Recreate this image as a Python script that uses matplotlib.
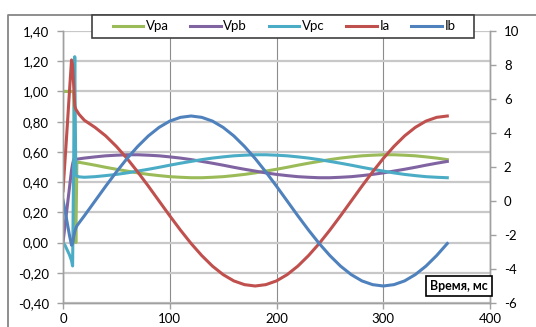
import matplotlib
matplotlib.use('Agg')
import matplotlib.pyplot as plt
from matplotlib.ticker import FuncFormatter, MultipleLocator
from matplotlib.patches import Rectangle
from matplotlib.lines import Line2D

plt.rcParams['font.family'] = ['Lato', 'Roboto', 'DejaVu Sans']

# ── Data ──────────────────────────────────────────────────────
t_ms = [0, 2, 4, 6, 8, 9, 10, 11, 12, 13, 15,
        20, 30, 40, 50, 60, 70, 80, 90, 100, 110, 120, 130, 140, 150,
        160, 170, 180, 190, 200, 210, 220, 230, 240, 250, 260, 270,
        280, 290, 300, 310, 320, 330, 340, 350, 360]

vpa = [1.00, 1.00, 1.00, 1.00, 1.00, 1.00, 1.00, 0.50, 0.00, 0.533, 0.531,
       0.525, 0.512, 0.498, 0.485, 0.473, 0.461, 0.451, 0.443, 0.436, 0.432,
       0.429, 0.429, 0.432, 0.436, 0.443, 0.451, 0.461, 0.473, 0.485, 0.498,
       0.512, 0.525, 0.537, 0.549, 0.559, 0.567, 0.574, 0.578, 0.581, 0.581,
       0.578, 0.574, 0.567, 0.559, 0.549]

vpb = [0.00, 0.12, 0.24, 0.36, 0.48, 0.52, 0.549, 0.550, 0.551, 0.552, 0.554,
       0.559, 0.567, 0.574, 0.578, 0.581, 0.581, 0.578, 0.574, 0.567, 0.559,
       0.549, 0.537, 0.525, 0.512, 0.498, 0.485, 0.473, 0.461, 0.451, 0.443,
       0.436, 0.432, 0.429, 0.429, 0.432, 0.436, 0.443, 0.451, 0.461, 0.473,
       0.485, 0.498, 0.512, 0.525, 0.537]

vpc = [0.00, -0.02, -0.05, -0.08, -0.12, -0.155, 0.54, 1.23, 0.45, 0.44, 0.435,
       0.432, 0.436, 0.443, 0.451, 0.461, 0.473, 0.485, 0.498, 0.512, 0.525,
       0.537, 0.549, 0.559, 0.567, 0.574, 0.578, 0.581, 0.581, 0.578, 0.574,
       0.567, 0.559, 0.549, 0.537, 0.525, 0.512, 0.498, 0.485, 0.473, 0.461,
       0.451, 0.443, 0.436, 0.432, 0.429]

ia = [0.60, 2.5, 4.4, 6.4, 8.3, 8.0, 6.8, 5.6, 5.4, 5.3, 5.1,
      4.75, 4.33, 3.83, 3.21, 2.50, 1.71, 0.87, 0.00, -0.87, -1.71,
      -2.50, -3.21, -3.83, -4.33, -4.70, -4.92, -5.00, -4.92, -4.70, -4.33,
      -3.83, -3.21, -2.50, -1.71, -0.87, 0.00, 0.87, 1.71, 2.50, 3.21,
      3.83, 4.33, 4.70, 4.92, 5.00]

ib = [0.05, -0.6, -1.3, -2.0, -2.6, -2.5, -2.1, -1.8, -1.6, -1.46, -1.29,
      -0.87, 0.00, 0.87, 1.71, 2.50, 3.21, 3.83, 4.33, 4.70, 4.92,
      5.00, 4.92, 4.70, 4.33, 3.83, 3.21, 2.50, 1.71, 0.87, 0.00,
      -0.87, -1.71, -2.50, -3.21, -3.83, -4.33, -4.70, -4.92, -5.00, -4.92,
      -4.70, -4.33, -3.83, -3.21, -2.50]

left_labels = ['Vpa', 'Vpb', 'Vpc']
right_labels = ['Ia', 'Ib']
colors = {'Vpa': '#9BBB59', 'Vpb': '#8064A2', 'Vpc': '#4BACC6',
          'Ia': '#C0504D', 'Ib': '#4F81BD'}

# ── Figure ────────────────────────────────────────────────────
W, H = 536, 327
fig = plt.figure(figsize=(W / 100, H / 100), dpi=100)
ax = fig.add_axes([63 / W, 1 - 303 / H, (490 - 63) / W, (303 - 31) / H])
ax2 = ax.twinx()

lw = 2.2
handles = []
for name, vals in zip(left_labels, [vpa, vpb, vpc]):
    h, = ax.plot(t_ms, vals, color=colors[name], lw=lw, label=name,
                 solid_joinstyle='round')
    handles.append(h)
for name, vals in zip(right_labels, [ia, ib]):
    h, = ax2.plot(t_ms, vals, color=colors[name], lw=lw, label=name,
                  solid_joinstyle='round')
    handles.append(h)

ax.set_xlim(0, 400)
ax.set_ylim(-0.4, 1.4)
ax2.set_ylim(-6, 10)
ax.xaxis.set_major_locator(MultipleLocator(100))
ax.yaxis.set_major_locator(MultipleLocator(0.2))
ax2.yaxis.set_major_locator(MultipleLocator(2))
ax.yaxis.set_major_formatter(FuncFormatter(lambda v, p: f"{v:.2f}".replace('.', ',')))
ax2.yaxis.set_major_formatter(FuncFormatter(lambda v, p: f"{v:.0f}"))
ax.xaxis.set_major_formatter(FuncFormatter(lambda v, p: f"{v:.0f}"))

# grid
ax.set_axisbelow(True)
ax.yaxis.grid(True, color='#c8c8c8', lw=1.6)
ax.xaxis.grid(True, color='#8c8c8c', lw=0.8)

axis_col = '#a0a0a0'
for a in (ax, ax2):
    for s in a.spines.values():
        s.set_color(axis_col)
        s.set_linewidth(1.0)
    a.spines['top'].set_visible(False)
ax.tick_params(axis='y', direction='out', length=4, width=1,
               color=axis_col, labelsize=9.5, pad=6)
ax.tick_params(axis='x', direction='out', length=4, width=1,
               color=axis_col, labelsize=9.5, pad=3)
ax2.tick_params(axis='y', direction='out', length=4, width=1,
                color=axis_col, labelsize=9.5, pad=6)

# chart area border
fig.add_artist(Line2D([8 / W, 8 / W, 1], [0, 1 - 15 / H, 1 - 15 / H],
                      transform=fig.transFigure, color='#868686', lw=1.3))

# legend
fig.patches.append(Rectangle((92 / W, 1 - 38 / H), (474 - 92) / W, 23 / H,
                             transform=fig.transFigure, facecolor='white',
                             edgecolor='#404040', lw=1.2, zorder=3))
fig.legend(handles, left_labels + right_labels, loc='center',
           bbox_to_anchor=(284 / W, 1 - 26.5 / H), ncol=5, frameon=False,
           fontsize=9.5, handlelength=2.3, handletextpad=0.2,
           columnspacing=1.65, borderpad=0.2)

# axis title box
fig.text(459 / W, 1 - 286 / H, 'Время, мс', ha='center', va='center',
         fontsize=9, fontweight='bold',
         bbox=dict(boxstyle='square,pad=0.3', fc='white', ec='black', lw=1.2))

fig.savefig('out.png', dpi=100)
